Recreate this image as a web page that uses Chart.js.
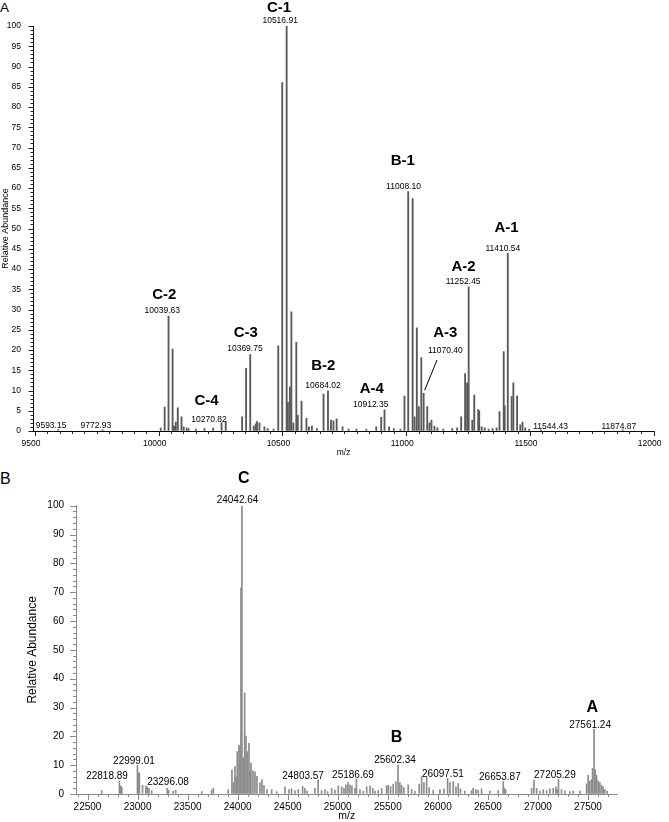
<!DOCTYPE html>
<html>
<head>
<meta charset="utf-8">
<title>Mass spectra</title>
<script src="https://cdn.jsdelivr.net/npm/chart.js@4.4.1/dist/chart.umd.min.js"></script>
<style>
  html, body { margin: 0; padding: 0; background: #fff; }
  body { width: 669px; height: 822px; position: relative; overflow: hidden; }
  canvas { position: absolute; left: 0; }
  #chartA { top: 0; }
  #chartB { top: 460px; }
  .panel { position: absolute; left: 0; font-family: "Liberation Sans", Arial, sans-serif; line-height: 1; color: #000; }
</style>
</head>
<body>
<div class="panel" style="top:1px;font-size:13.5px">A</div>
<div class="panel" style="top:471px;font-size:16px">B</div>
<canvas id="chartA" width="669" height="462"></canvas>
<canvas id="chartB" width="669" height="362"></canvas>
<script>
// panel A: m/z and relative abundance of each stick
var mzA = [9593.15, 9772.93, 10008, 10024, 10039.63, 10056, 10062, 10069, 10077, 10092, 10101, 10113, 10121,
  10150, 10185, 10220, 10254, 10270.82, 10337, 10353, 10369.75, 10384, 10392, 10397, 10407, 10427, 10440, 10464,
  10483, 10499, 10516.91, 10522, 10530, 10536, 10544, 10556, 10562, 10577, 10597, 10607, 10619, 10639,
  10666, 10684.02, 10696, 10706, 10719, 10743, 10767, 10799, 10839, 10879, 10899, 10912.35, 10931, 10950, 10977,
  10993, 11008.10, 11026, 11034, 11043, 11051, 11061, 11070.40, 11085, 11094, 11102, 11114, 11126, 11150,
  11186, 11206, 11222, 11238, 11246, 11252.45, 11267, 11275, 11291, 11295, 11305, 11317, 11333, 11349, 11365,
  11377, 11394, 11398, 11410.54, 11426, 11433, 11448, 11461, 11470, 11481, 11497, 11544.43, 11874.87];
var abundA = [0.3, 0.3, 0.7, 5.9, 28.4, 20.2, 1.2, 2.2, 5.7, 3.5, 1.0, 0.8, 0.6,
  0.5, 0.6, 0.7, 2.0, 2.2, 3.5, 15.5, 18.9, 1.2, 1.8, 2.3, 2.0, 1.0, 0.6, 0.5,
  21.0, 86.0, 100, 7.1, 10.9, 29.4, 2.0, 21.9, 3.9, 7.4, 3.1, 1.0, 1.2, 0.6,
  9.1, 9.9, 2.7, 2.5, 3.0, 1.0, 0.5, 0.5, 0.5, 1.0, 3.4, 5.2, 1.0, 0.6, 0.5,
  8.6, 59.1, 57.4, 3.5, 25.5, 6.0, 18.1, 9.3, 6.0, 2.0, 2.7, 1.2, 0.8, 0.5,
  0.6, 0.8, 3.5, 14.2, 11.9, 35.6, 2.7, 8.9, 5.3, 5.0, 1.0, 0.8, 0.5, 0.6, 0.8,
  4.8, 19.6, 6.2, 43.9, 8.5, 11.9, 8.6, 1.5, 2.2, 0.8, 0.5, 0.3, 0.3];

// panel B
var mzB = [22642, 22818.89, 22830, 22842, 22999.01, 23008, 23018, 23050, 23084, 23097, 23114, 23141,
  23296.08, 23310, 23357, 23381, 23641, 23740, 23757, 23906,
  23943, 23958, 23973, 23986, 23996, 24013, 24023, 24033, 24042.64, 24056, 24070, 24083, 24096, 24113,
  24123, 24133, 24153, 24173, 24193, 24223, 24243, 24263, 24293,
  24340, 24390, 24473, 24513, 24539, 24573, 24606, 24649, 24672, 24695, 24772, 24803.57, 24839, 24872, 24899,
  24939, 24972, 25005, 25039, 25062, 25082, 25102, 25122, 25142, 25172, 25186.69, 25222, 25255, 25289,
  25322, 25349, 25372, 25405, 25439, 25488, 25504, 25528, 25554, 25581, 25602.34, 25621, 25638, 25661,
  25704, 25738, 25771, 25814, 25838, 25861, 25888, 25914, 25954, 26021, 26061, 26097.51,
  26121, 26154, 26181, 26204, 26227, 26270, 26337, 26353, 26380, 26403, 26437, 26520, 26603,
  26653.87, 26665, 26677, 26937, 26960, 26987, 27020, 27053, 27087, 27120, 27153, 27180, 27193,
  27205.29, 27236, 27269, 27319, 27352, 27419, 27486, 27502, 27519, 27536, 27546, 27561.24,
  27572, 27586, 27602, 27619, 27636, 27652, 27669, 27692];
var abundB = [1.2, 4.6, 2.8, 2.4, 10.0, 7.4, 7.2, 3.0, 2.8, 2.4, 2.0, 1.2,
  2.0, 1.4, 1.0, 1.3, 0.8, 1.4, 2.0, 1.5,
  8.3, 4.0, 9.5, 6.0, 14.7, 17.0, 16.4, 71.5, 100, 12.5, 35.1, 20.1, 14.7, 17.6,
  8.0, 10.7, 8.0, 7.7, 6.1, 3.9, 5.0, 3.0, 1.5,
  1.5, 0.8, 2.4, 1.5, 1.8, 1.2, 1.5, 2.7, 2.0, 1.0, 2.0, 4.9, 1.2, 1.5, 0.8,
  2.0, 1.4, 2.8, 2.5, 2.0, 3.2, 4.0, 3.1, 2.8, 2.0, 5.2, 1.5, 1.0, 2.5,
  2.8, 2.0, 1.0, 1.3, 2.0, 2.8, 3.0, 2.6, 3.4, 4.2, 10.0, 4.0, 3.0, 2.2,
  3.2, 1.5, 1.0, 3.4, 6.0, 4.0, 5.8, 2.2, 1.4, 1.5, 1.8, 5.4,
  4.0, 4.2, 2.5, 3.6, 1.8, 1.0, 1.2, 2.0, 1.5, 1.3, 1.8, 1.0, 1.2,
  4.3, 2.0, 1.5, 2.0, 4.8, 2.0, 1.0, 1.5, 1.2, 1.8, 2.0, 2.5, 1.5,
  5.1, 1.5, 1.0, 0.8, 1.0, 1.0, 3.5, 6.5, 4.5, 5.0, 9.0, 22.4,
  8.5, 6.5, 4.5, 4.0, 3.0, 2.5, 1.5, 1.0];

// tick labels
var xTicksA = [9500, 10000, 10500, 11000, 11500, 12000];
var yTicksA = [0, 5, 10, 15, 20, 25, 30, 35, 40, 45, 50, 55, 60, 65, 70, 75, 80, 85, 90, 95, 100];
var xTicksB = [22500, 23000, 23500, 24000, 24500, 25000, 25500, 26000, 26500, 27000, 27500];
var yTicksB = [0, 10, 20, 30, 40, 50, 60, 70, 80, 90, 100];

// labelled peaks
var calloutMzA = [10516.91, 10039.63, 10369.75, 10270.82, 11008.10, 10684.02, 10912.35, 11070.40, 11252.45, 11410.54,
  9593.15, 9772.93, 11544.43, 11874.87];
var calloutTagA = ['C-1', 'C-2', 'C-3', 'C-4', 'B-1', 'B-2', 'A-4', 'A-3', 'A-2', 'A-1', '', '', '', ''];
var calloutMzB = [24042.64, 22818.89, 22999.01, 23296.08, 24803.57, 25186.69, 25602.34, 26097.51, 26653.87, 27205.29, 27561.24];
var calloutTagB = ['C', '', '', '', '', '', 'B', '', '', '', 'A'];

var FONT = '"Liberation Sans", Arial, sans-serif';

// text placement relative to the peak top: [numDx, numDy, tagDx, tagGap, leader]
var placeA = [[-6.5, -5.3, -7.6, 13.2], [-6.3, -5, -4.3, 16], [-5.3, -5.3, -4.5, 16.2], [-16.7, -2.5, -19.2, 19],
  [-4.7, -5.4, -5.4, 25.6], [-5, -5, -4.7, 20.2], [-13.8, -5, -12.8, 16], [21.7, -42.8, 21.7, 18, 1],
  [-5.5, -5, -5.2, 14.7], [-5, -4.3, -1.3, 20.7], [-7, -4, 0, 0], [-6.7, -4, 0, 0], [9.6, -3.5, 0, 0], [-3.8, -3.5, 0, 0]];
var placeB = [[-4.4, -5.7, 1.9, 21], [-12.4, -4, 0, 0], [-3.5, -3.7, 0, 0], [0.8, -5.6, 0, 0], [-15, -3.7, 0, 0],
  [-3.5, -3.7, 0, 0], [-3, -4.7, -1.4, 23], [-4.7, -4.6, 0, 0], [-3.4, -3.9, 0, 0], [-3.6, -3.8, 0, 0], [-4, -4, -1.9, 17.8]];

function toPoints(xs, ys) {
    return xs.map(function (m, i) { return { x: m, y: ys[i] }; });
}

// minor / major tick marks drawn from the scales
var tickMarks = {
    id: 'tickMarks',
    afterDraw: function (chart, args, o) {
        var ctx = chart.ctx, x = chart.scales.x, y = chart.scales.y;
        ctx.save();
        ctx.strokeStyle = o.color;
        ctx.lineWidth = 1;
        ctx.beginPath();
        var v, p, len;
        for (v = Math.ceil(x.min / o.xStep) * o.xStep; v <= x.max + 0.01; v += o.xStep) {
            p = Math.round(x.getPixelForValue(v)) + 0.5;
            len = (v % o.xMajor === 0) ? o.majorLen : o.minorLen;
            ctx.moveTo(p, y.bottom);
            ctx.lineTo(p, y.bottom + len);
        }
        for (v = 0; v <= y.max + 0.01; v += o.yStep) {
            p = Math.round(y.getPixelForValue(v)) + 0.5;
            len = (v % o.yMajor === 0) ? o.majorLen : o.minorLen;
            ctx.moveTo(x.left, p);
            ctx.lineTo(x.left - len, p);
        }
        ctx.stroke();
        ctx.restore();
    }
};

var callouts = {
    id: 'callouts',
    afterDatasetsDraw: function (chart, args, o) {
        var ctx = chart.ctx, x = chart.scales.x, y = chart.scales.y;
        var pts = chart.data.datasets[0].data;
        ctx.save();
        ctx.fillStyle = '#000';
        ctx.strokeStyle = '#000';
        ctx.textAlign = 'center';
        ctx.textBaseline = 'middle';
        o.mz.forEach(function (m, i) {
            var pt = pts.find(function (d) { return d.x === m; });
            var px = x.getPixelForValue(m), py = y.getPixelForValue(pt ? pt.y : 0);
            var p = o.place[i];
            var cx = px + p[0], cy = py + p[1];
            ctx.font = o.numFont;
            ctx.fillText(m.toFixed(2), cx, cy);
            if (o.tags[i]) {
                ctx.font = o.tagFont;
                ctx.fillText(o.tags[i], px + p[2], cy - p[3]);
            }
            if (p[4]) {
                ctx.lineWidth = 1;
                ctx.beginPath();
                ctx.moveTo(cx - 8.3, cy + 9.5);
                ctx.lineTo(px + 1, py - 3);
                ctx.stroke();
            }
        });
        ctx.restore();
    }
};

function spectrum(canvasId, pts, cfg) {
    return new Chart(document.getElementById(canvasId), {
        type: 'bar',
        data: {
            datasets: [{
                data: pts,
                backgroundColor: cfg.barColor,
                barThickness: cfg.barWidth,
                grouped: false
            }]
        },
        options: {
            responsive: false,
            animation: false,
            events: [],
            layout: { padding: cfg.padding },
            plugins: {
                legend: { display: false },
                tooltip: { enabled: false },
                tickMarks: cfg.marks,
                callouts: cfg.callouts
            },
            scales: {
                x: {
                    type: 'linear',
                    min: cfg.xMin,
                    max: cfg.xMax,
                    offset: false,
                    afterFit: function (s) { s.height = cfg.xHeight; },
                    afterBuildTicks: function (s) { s.ticks = cfg.xTicks.map(function (v) { return { value: v }; }); },
                    grid: { color: 'rgba(0,0,0,0)', drawOnChartArea: false, tickLength: cfg.xTickLen, offset: false },
                    border: { color: cfg.axisColor, width: 1 },
                    ticks: {
                        autoSkip: false, maxRotation: 0, color: '#000',
                        padding: cfg.xPad, labelOffset: cfg.xLabelOffset,
                        font: { family: FONT, size: cfg.tickSize },
                        callback: function (v) { return String(v); }
                    },
                    title: {
                        display: true, text: 'm/z', color: '#000',
                        font: { family: FONT, size: cfg.xTitleSize },
                        padding: { top: 0, bottom: cfg.xTitlePad }
                    }
                },
                y: {
                    min: 0,
                    max: 100,
                    afterFit: function (s) { s.width = cfg.yWidth; },
                    afterBuildTicks: function (s) { s.ticks = cfg.yTicks.map(function (v) { return { value: v }; }); },
                    grid: { color: 'rgba(0,0,0,0)', drawOnChartArea: false, tickLength: cfg.yTickLen },
                    border: { color: cfg.axisColor, width: 1 },
                    ticks: {
                        autoSkip: false, color: '#000', padding: cfg.yPad,
                        font: { family: FONT, size: cfg.tickSize },
                        callback: function (v) { return String(v); }
                    },
                    title: {
                        display: true, text: 'Relative Abundance', color: '#000',
                        font: { family: FONT, size: cfg.yTitleSize },
                        padding: { top: cfg.yTitlePad, bottom: 0 }
                    }
                }
            }
        },
        plugins: [tickMarks, callouts]
    });
}

spectrum('chartA', toPoints(mzA, abundA), {
    barColor: '#5a5a5a', barWidth: 1.2, axisColor: '#000',
    padding: { top: 26, right: 8, left: 0, bottom: 0 },
    xMin: 9494, xMax: 12000, xTicks: xTicksA, yTicks: yTicksA,
    xHeight: 31, yWidth: 33.5,
    xTickLen: 4, xPad: 3.5, xLabelOffset: -4,
    yTickLen: 4, yPad: 8.5,
    tickSize: 8.5, xTitleSize: 8.5, xTitlePad: 3.8, yTitleSize: 9, yTitlePad: 0,
    marks: { color: '#222', xStep: 50, xMajor: 500, yStep: 1, yMajor: 5, majorLen: 5, minorLen: 3 },
    callouts: { mz: calloutMzA, tags: calloutTagA, place: placeA,
        numFont: '8.5px ' + FONT, tagFont: 'bold 15px ' + FONT }
});

spectrum('chartB', toPoints(mzB, abundB), {
    barColor: '#8c8c8c', barWidth: 1, axisColor: '#8a8a8a',
    padding: { top: 45.7, right: 51.5, left: 0, bottom: 0 },
    xMin: 22385, xMax: 27795, xTicks: xTicksB, yTicks: yTicksB,
    xHeight: 28, yWidth: 76,
    xTickLen: 4, xPad: 3, xLabelOffset: 0,
    yTickLen: 4, yPad: 8,
    tickSize: 10, xTitleSize: 10.5, xTitlePad: 0, yTitleSize: 12, yTitlePad: 25,
    marks: { color: '#8a8a8a', xStep: 100, xMajor: 500, yStep: 2, yMajor: 10, majorLen: 6, minorLen: 3 },
    callouts: { mz: calloutMzB, tags: calloutTagB, place: placeB,
        numFont: '10px ' + FONT, tagFont: 'bold 16px ' + FONT }
});
</script>
</body>
</html>
